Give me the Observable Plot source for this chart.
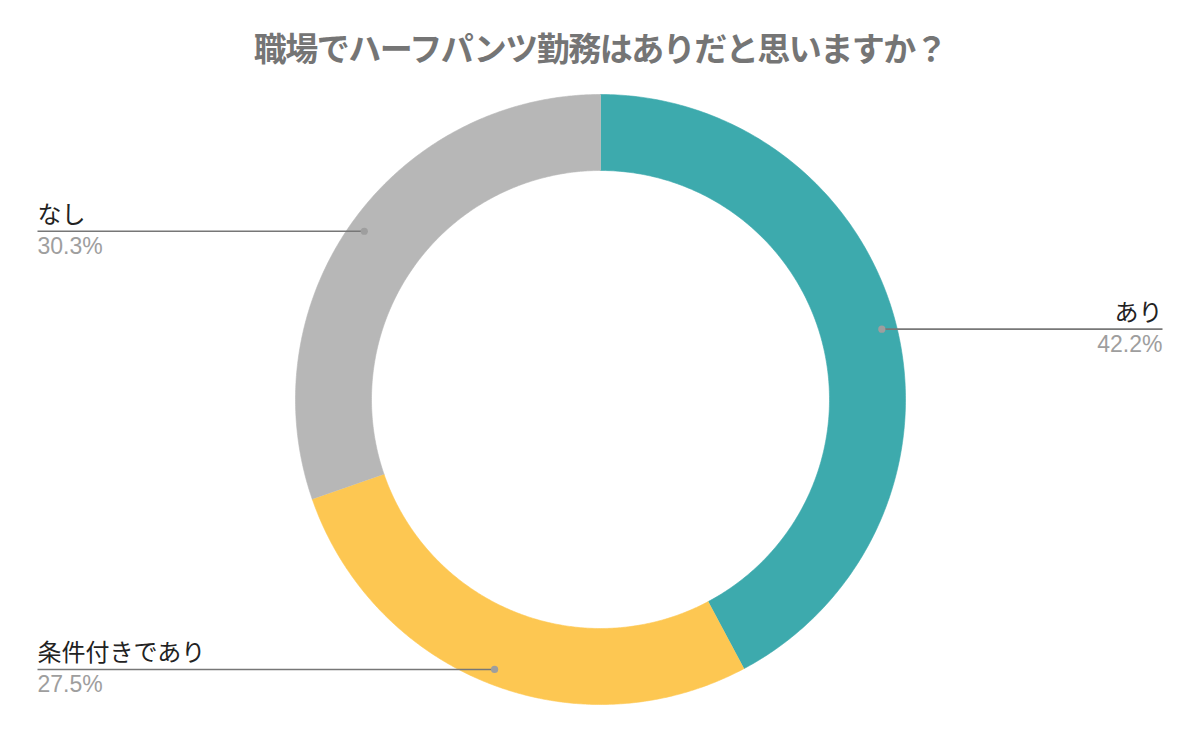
<!DOCTYPE html>
<html>
<head>
<meta charset="utf-8">
<script src="https://cdn.jsdelivr.net/npm/d3@7"></script>
<script src="https://cdn.jsdelivr.net/npm/@observablehq/plot@0.6"></script>
<style>
  html, body { margin: 0; padding: 0; background: #fff; }
  #wrap { width: 1200px; }
  #title {
    width: 1200px; height: 80px; box-sizing: border-box; padding-top: 30px;
    text-align: center; font-family: "Liberation Sans", Arial, "Noto Sans CJK JP", sans-serif;
    font-weight: bold; font-size: 33px; letter-spacing: -1.5px; line-height: 40px; color: #757575;
  }
</style>
</head>
<body>
<div id="wrap">
  <div id="title"></div>
  <div id="chart"></div>
</div>
<script>
const titleText = "職場でハーフパンツ勤務はありだと思いますか？";
const categories = ["あり", "条件付きであり", "なし"];
const values = [42.2, 27.5, 30.3];
const colors = ["#3DAAAD", "#FDC752", "#B7B7B7"];

document.getElementById("title").textContent = titleText;

const R = 305, r0 = 229, rLabel = 290, labelX = 562;
const total = d3.sum(values);
let cum = 0;
const slices = categories.map((c, i) => {
  const a0 = cum / total * 2 * Math.PI;
  cum += values[i];
  const a1 = cum / total * 2 * Math.PI;
  return {category: c, value: values[i], color: colors[i], a0, a1};
});

function poly(s) {
  const N = 240, pts = [];
  for (let k = 0; k <= N; k++) {
    const a = s.a0 + (s.a1 - s.a0) * k / N;
    pts.push({x: R * Math.sin(a), y: R * Math.cos(a)});
  }
  for (let k = N; k >= 0; k--) {
    const a = s.a0 + (s.a1 - s.a0) * k / N;
    pts.push({x: r0 * Math.sin(a), y: r0 * Math.cos(a)});
  }
  return pts;
}

const labels = slices.map(s => {
  const m = (s.a0 + s.a1) / 2;
  const x = rLabel * Math.sin(m), y = rLabel * Math.cos(m);
  const right = x > 0;
  return {
    category: s.category,
    pct: s.value.toFixed(1) + "%",
    x, y,
    x2: right ? labelX : -labelX - 1,
    anchor: right ? "end" : "start"
  };
});

const font = '"Liberation Sans", Arial, "Noto Sans CJK JP", sans-serif';

const marks = [
  ...slices.map(s => Plot.line(poly(s), {x: "x", y: "y", fill: s.color, stroke: s.color, strokeWidth: 0.6, curve: "linear"})),
  Plot.link(labels, {x1: "x", y1: "y", x2: "x2", y2: "y", stroke: "#777", strokeWidth: 1.6}),
  Plot.dot(labels, {x: "x", y: "y", r: 3.6, fill: "#9E9E9E", stroke: null}),
  ...["start", "end"].flatMap(anc => {
    const sub = labels.filter(d => d.anchor === anc);
    return [
      Plot.text(sub, {x: "x2", y: d => d.y + 16, text: "category", textAnchor: anc, lineAnchor: "middle", fontSize: 24, fill: "#222", fontFamily: font}),
      Plot.text(sub, {x: "x2", y: d => d.y - 15, text: "pct", textAnchor: anc, lineAnchor: "middle", fontSize: 23, fill: "#9E9E9E", fontFamily: font})
    ];
  })
];

const chart = Plot.plot({
  width: 1200,
  height: 662,
  margin: 0,
  x: {domain: [-600, 600], axis: null},
  y: {domain: [-343, 319], axis: null},
  style: {fontFamily: font, background: "#fff"},
  marks
});
document.getElementById("chart").appendChild(chart);
</script>
</body>
</html>
